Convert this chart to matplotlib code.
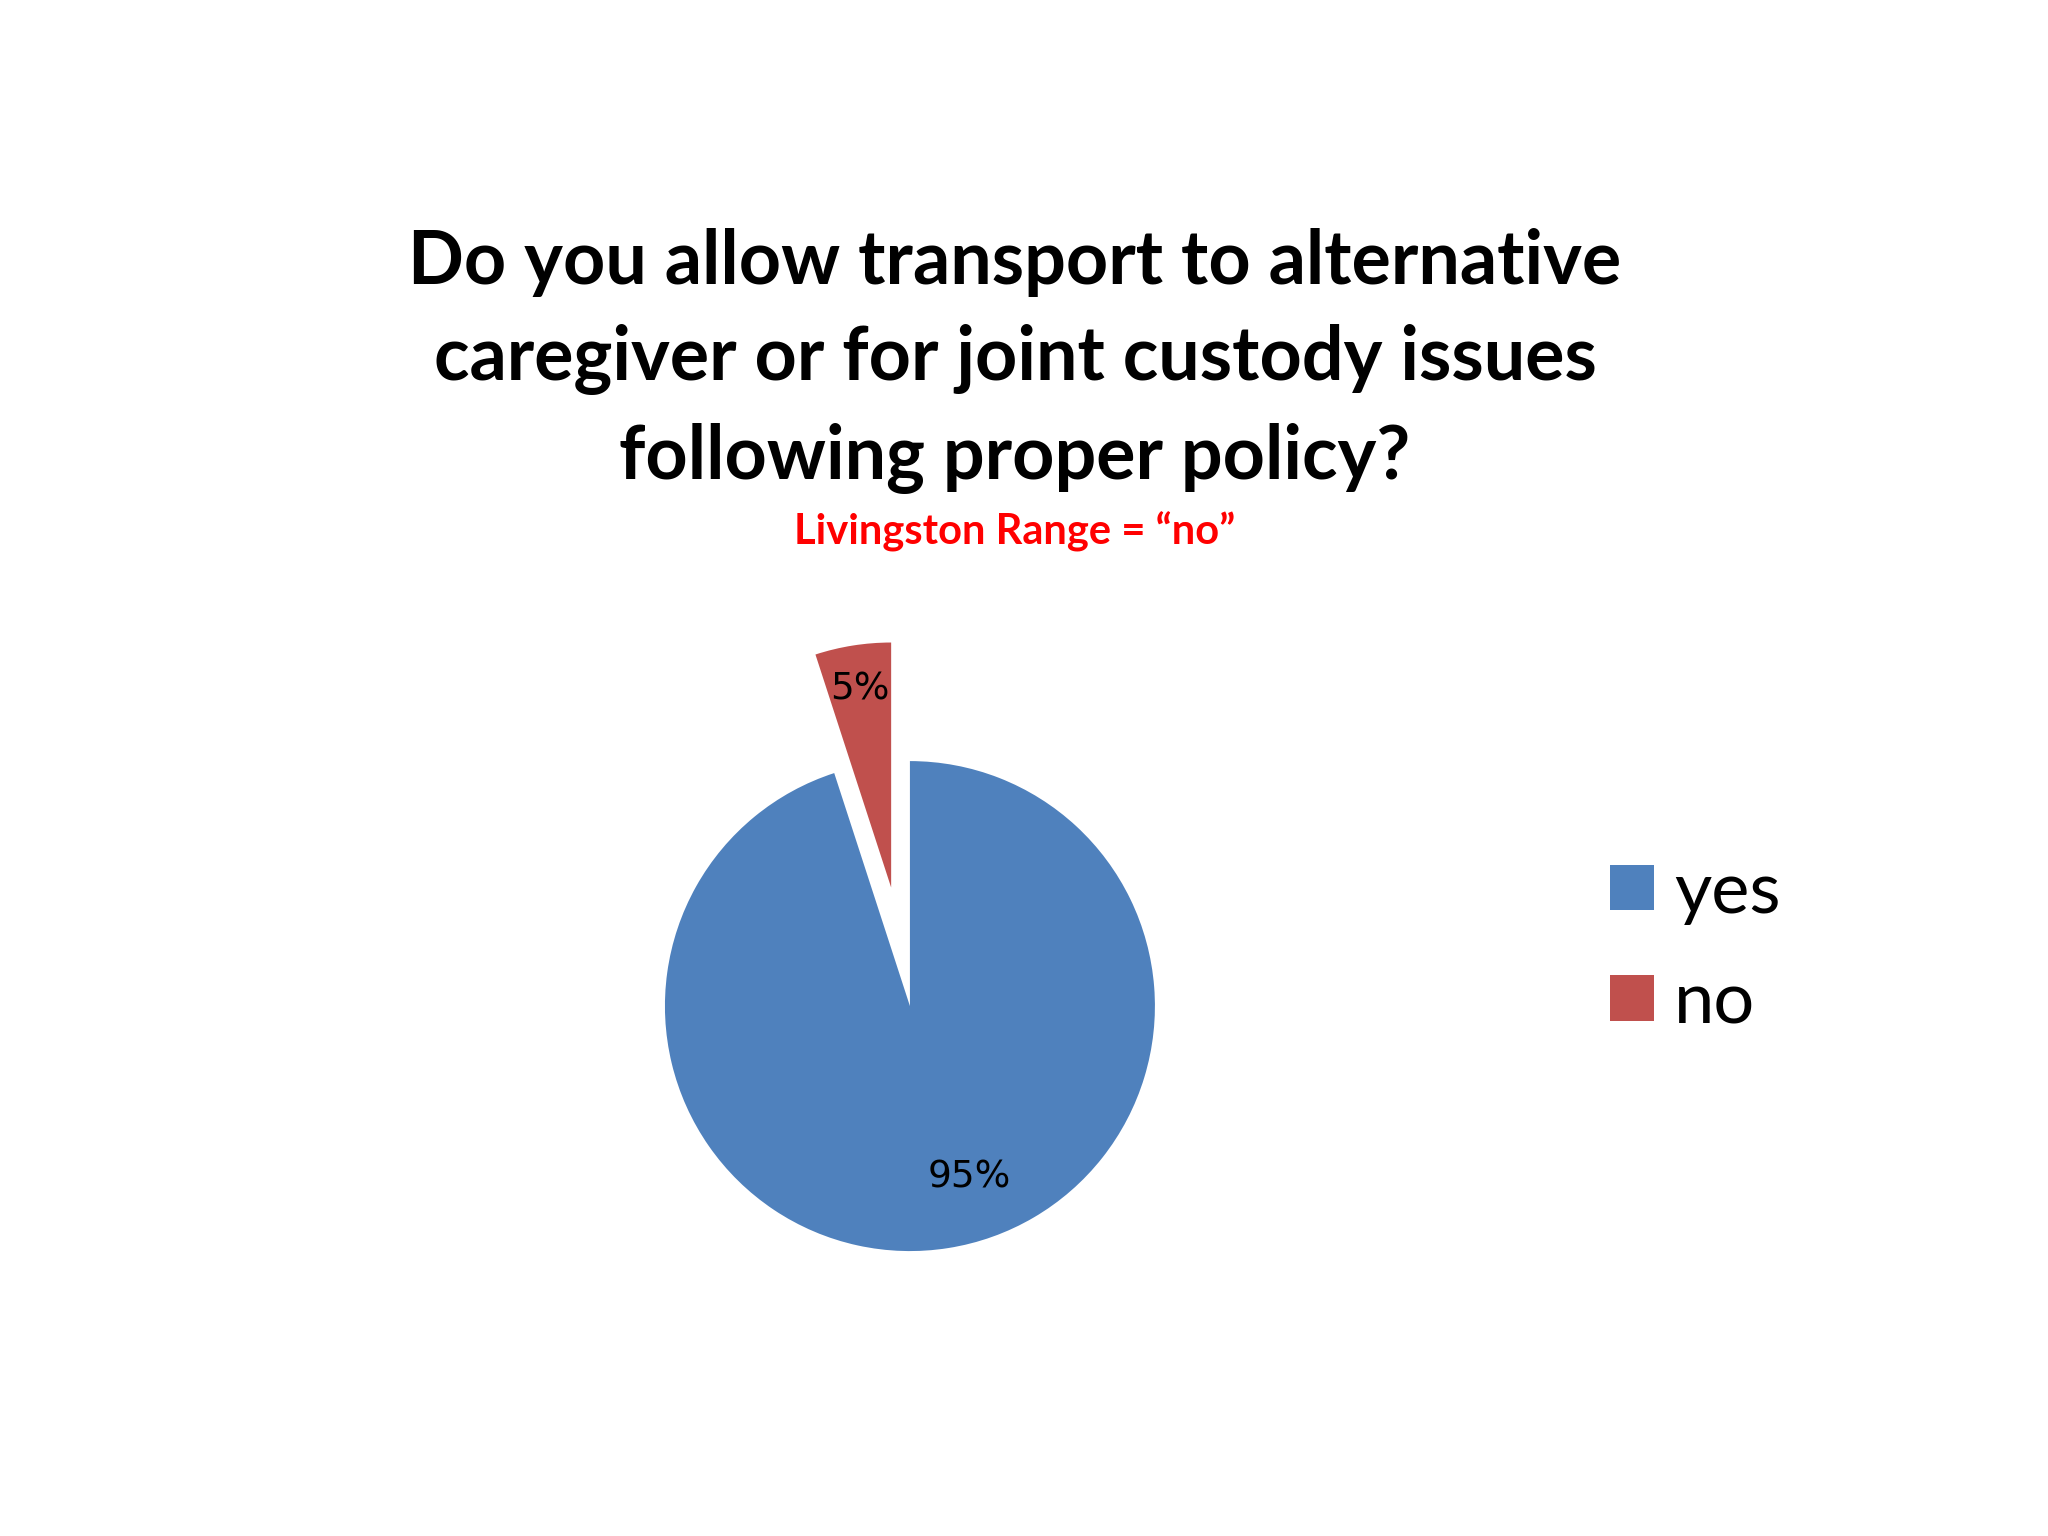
import matplotlib.pyplot as plt
import numpy as np

labels = ["yes", "no"]
values = [95, 5]
colors = ["#4F81BD", "#C0504D"]
explode = [0, 0.49]

title = "Do you allow transport to alternative\ncaregiver or for joint custody issues\nfollowing proper policy?"
subtitle = "Livingston Range = \u201cno\u201d"

fig = plt.figure(figsize=(20.48, 15.36), dpi=100)
fig.patch.set_facecolor("white")

# pie axes: 3.2 data units wide, pie radius 1
ax = fig.add_axes([0.2529, 0.0898, 0.3828, 0.5104])
wedges, texts, autotexts = ax.pie(
    values, colors=colors, explode=explode, startangle=90, counterclock=False,
    autopct="%d%%", pctdistance=0.78, radius=1,
    textprops=dict(fontsize=27, family="DejaVu Sans", color="black"),
    wedgeprops=dict(linewidth=0),
)
ax.set_xlim(-1.6, 1.6)
ax.set_ylim(-1.6, 1.6)
ax.set_aspect("equal")
ax.axis("off")

# label placement per slice (distance from wedge centre, angle shift)
label_dist = [0.74, 0.82]
label_shift = [10, 0]
for w, t, d, s in zip(wedges, autotexts, label_dist, label_shift):
    ang = np.deg2rad((w.theta1 + w.theta2) / 2 + s)
    cx, cy = w.center
    t.set_position((cx + d * np.cos(ang), cy + d * np.sin(ang)))

fig.text(0.4956, 0.765, title, ha="center", va="center", fontsize=53,
         fontweight="bold", family="Lato", linespacing=1.49)
fig.text(0.4956, 0.654, subtitle, ha="center", va="center", fontsize=30,
         fontweight="bold", family="Lato", color="#FF0000")

leg = fig.legend(wedges, labels, loc="center left", bbox_to_anchor=(0.7545, 0.383),
                 frameon=False, prop=dict(family="Lato", size=52),
                 handlelength=0.6, handleheight=0.6, handletextpad=0.28,
                 labelspacing=0.63)

fig.savefig("out.png", dpi=100, facecolor="white")
